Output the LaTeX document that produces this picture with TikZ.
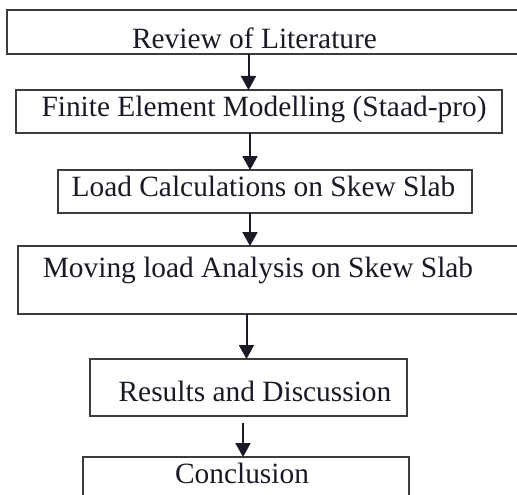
\documentclass[tikz,border=0pt]{standalone}
\usepackage{fontspec}
\setmainfont{Liberation Serif}
\usetikzlibrary{arrows.meta}
\definecolor{boxline}{HTML}{3C3C3C}
\definecolor{inkc}{HTML}{1A1A26}
\begin{document}
\begin{tikzpicture}[x=1pt,y=-1pt,
  stagebox/.style={draw=boxline,line width=1.8pt,rectangle,inner sep=0pt,outer sep=0pt},
  label/.style={anchor=base,inner sep=0pt,text=inkc,font=\fontsize{29.4}{34}\selectfont},
  flow/.style={draw=inkc,line width=2pt,-{Triangle[length=14pt,width=15pt]}}]
\useasboundingbox (0,0) rectangle (517,495);
% stage boxes (some run past the page edge)
\node[stagebox,minimum width=523pt,minimum height=44pt] (b1) at (268.5,32) {};
\node[stagebox,minimum width=486pt,minimum height=43pt] (b2) at (259,111.5) {};
\node[stagebox,minimum width=414pt,minimum height=43pt] (b3) at (265,191.5) {};
\node[stagebox,minimum width=512pt,minimum height=68pt] (b4) at (274,280) {};
\node[stagebox,minimum width=317pt,minimum height=57pt] (b5) at (248.5,387.5) {};
\node[stagebox,minimum width=326pt,minimum height=56pt] (b6) at (246,485) {};
% captions
\node[label] (t1) at (254.5,49) {Review of Literature};
\node[label] (t2) at (264,116) {Finite Element Modelling (Staad-pro)};
\node[label] (t3) at (263.5,196) {Load Calculations on Skew Slab};
\node[label] (t4) at (258,277) {Moving load Analysis on Skew Slab};
\node[label] (t5) at (255,401) {Results and Discussion};
\node[label] (t6) at (242,483) {Conclusion};
% connectors
\coordinate (x1) at (248.5,0);
\coordinate (x2) at (250,0);
\coordinate (x4) at (246.5,0);
\coordinate (c5) at (243,423);
\draw[flow] (b1.south -| x1) -- (b2.north -| x1);
\draw[flow] (b2.south -| x2) -- (b3.north -| x2);
\draw[flow] (b3.south -| x2) -- (b4.north -| x2);
\draw[flow] (b4.south -| x4) -- (b5.north -| x4);
\draw[flow] (c5) -- (b6.north -| c5);
\end{tikzpicture}
\end{document}
